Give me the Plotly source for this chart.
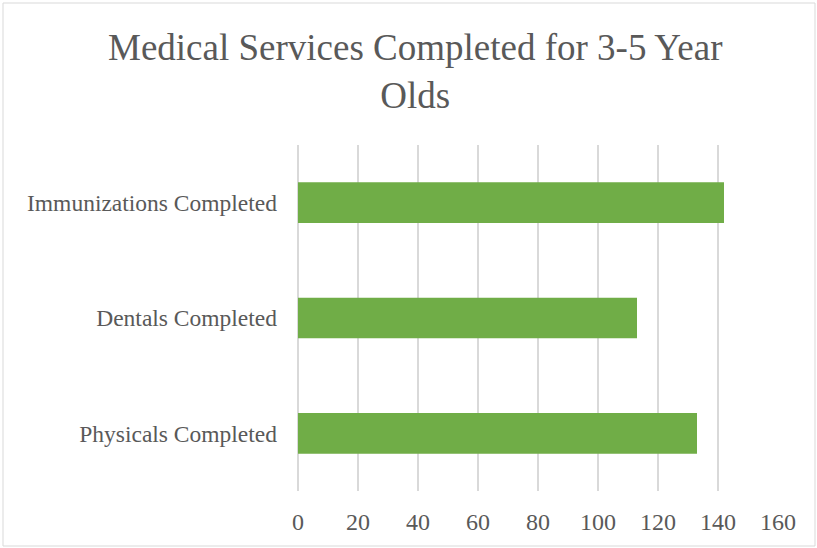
import plotly.graph_objects as go

categories = ["Physicals Completed", "Dentals Completed", "Immunizations Completed"]
values = [133, 113, 142]
x_ticks = [0, 20, 40, 60, 80, 100, 120, 140, 160]
title_text = "Medical Services Completed for 3-5 Year<br>Olds"

W, H = 817, 548
L, R, T, B = 298, 39, 145, 57
pw, ph = W - L - R, H - T - B
FONT = "Liberation Serif, Times New Roman, serif"

fig = go.Figure(go.Bar(
    y=categories, x=values, orientation="h",
    marker=dict(color="#70AD47", line=dict(width=0)),
    hoverinfo="x+y",
))

fig.update_layout(
    width=W, height=H,
    margin=dict(l=L, r=R, t=T, b=B),
    paper_bgcolor="white", plot_bgcolor="white",
    bargap=0.648,
    showlegend=False,
    font=dict(family=FONT, color="#595959"),
    xaxis=dict(
        range=[0, 160], tickvals=x_ticks, ticktext=[str(v) for v in x_ticks],
        showgrid=True, gridcolor="#D9D9D9", gridwidth=1.5,
        zeroline=True, zerolinecolor="#D9D9D9", zerolinewidth=1.5,
        showline=False, ticks="",
        tickfont=dict(size=24, color="#595959"),
        ticklabelstandoff=14,
        fixedrange=True,
    ),
    yaxis=dict(
        showgrid=False, zeroline=False, showline=False, ticks="",
        tickfont=dict(size=23.5, color="#595959"),
        ticklabelstandoff=20,
        fixedrange=True,
    ),
    annotations=[dict(
        text=title_text, xref="paper", yref="paper",
        x=(415 - L) / pw, xanchor="center",
        y=1 + (T - 71) / ph, yanchor="middle",
        showarrow=False, align="center",
        font=dict(size=37, color="#595959", family=FONT),
    )],
    shapes=[dict(
        type="rect", xref="paper", yref="paper",
        x0=(3 - L) / pw, x1=(815 - L) / pw,
        y0=-(546 - (T + ph)) / ph, y1=1 + (T - 3) / ph,
        line=dict(color="#D9D9D9", width=1), fillcolor="rgba(0,0,0,0)", layer="below",
    )],
)

fig.write_html("out.html", config={"displayModeBar": False},
               post_script="document.body.style.margin='0';")
